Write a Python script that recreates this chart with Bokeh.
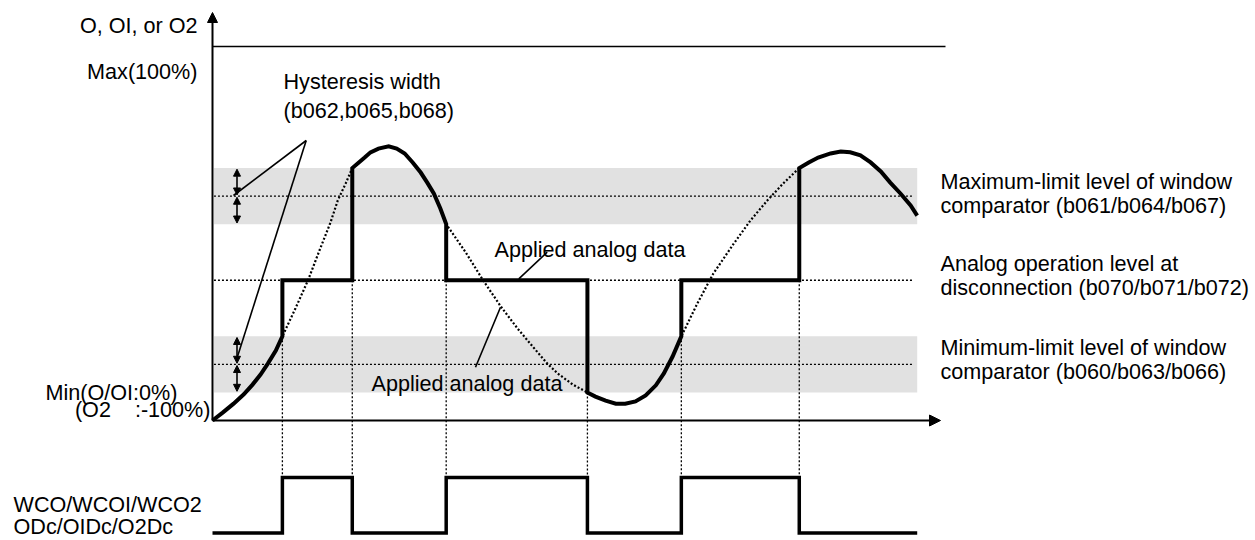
from bokeh.plotting import figure
from bokeh.models import Range1d, Arrow, NormalHead
from bokeh.embed import file_html
from bokeh.resources import INLINE
from bokeh.core.properties import value

# ---------------- data ----------------
full_scale = 100.0          # Max(100%)
level_max = 60.0            # maximum-limit level of window comparator
level_min = 15.0            # minimum-limit level of window comparator
level_disc = 37.5           # analog operation level at disconnection
hyst = 7.5                  # hysteresis width

# input analog signal (time, %)
signal_t = [0.0, 1.4, 2.9, 4.3, 5.5, 6.6, 7.6, 8.7, 9.6,
            11.4, 13.1, 14.8, 16.2, 17.2, 18.3, 19.2,
            20.1, 20.9, 21.7, 22.8, 24.2, 25.3, 26.4, 27.5, 28.6, 29.5, 30.4, 31.3, 32.1,
            34.8, 37.2, 39.6, 41.9, 44.1, 46.0, 47.4, 49.5, 51.5,
            52.6, 54.0, 55.4, 56.7, 58.1, 59.5, 60.9, 62.0, 63.2, 64.4,
            66.6, 68.8, 71.6, 73.9, 76.2, 78.4, 80.6,
            81.9, 83.2, 84.9, 86.3, 87.6, 89.0, 90.4, 91.8, 93.1, 94.5, 95.9, 96.8]
signal_y = [0.0, 2.1, 4.5, 7.0, 9.6, 12.3, 15.2, 18.7, 22.5,
            30.0, 37.4, 46.0, 52.9, 58.8, 63.4, 67.5,
            69.0, 70.3, 71.7, 72.7, 73.3, 72.7, 71.4, 69.0, 66.3, 63.6, 60.7, 56.7, 52.5,
            44.9, 37.4, 30.5, 24.6, 19.5, 15.2, 12.6, 9.6, 7.5,
            6.4, 5.3, 4.5, 4.5, 5.1, 6.7, 9.4, 12.6, 17.1, 22.5,
            31.3, 39.3, 47.3, 53.5, 58.8, 63.4, 67.5,
            69.0, 70.3, 71.4, 71.9, 71.7, 70.9, 69.0, 66.6, 63.6, 60.7, 57.5, 54.8]

# times where the window comparator switches
crossing_t = [9.6, 19.2, 32.1, 51.5, 64.4, 80.6]
# WCO state in each interval (1 = inside window -> disconnection level used)
wco_state = [0, 1, 0, 1, 0, 1, 0]

# ---------------- layout helpers ----------------
PX0, PY0, SX, SY = 212.0, 420.0, 7.28, 3.74
def X(px):
    return (px - PX0) / SX
def Y(py):
    return (PY0 - py) / SY

W, H = 1255, 540
FONT = value("Liberation Sans")
FS = value("21.6px")
pulse_low, pulse_high = Y(532.5), Y(477)

p = figure(width=W, height=H, x_range=Range1d(X(0), X(W)),
           y_range=Range1d(Y(H), Y(0)), output_backend="svg",
           toolbar_location=None, min_border=0, x_axis_type=None,
           y_axis_type=None)
p.grid.visible = False
p.outline_line_color = None
p.background_fill_color = "white"

t_end = signal_t[-1]

# hysteresis bands
levels = [level_max, level_min]
p.quad(left=[0.2] * 2, right=[t_end] * 2,
       bottom=[l - hyst for l in levels], top=[l + hyst for l in levels],
       fill_color="#e1e1e1", line_color=None)

# dotted level lines
guide_levels = [level_max, level_disc, level_min]
p.segment(x0=[0.2] * 3, y0=guide_levels, x1=[X(913)] * 3, y1=guide_levels,
          line_color="black", line_width=1.3, line_dash="2 2")

# output (thick) build
bounds = [signal_t[0]] + crossing_t + [t_end]
out_t, out_y, pul_t, pul_y = [], [], [], []
for i in range(len(bounds) - 1):
    a, b = bounds[i], bounds[i + 1]
    s = wco_state[i]
    if s:
        out_t += [a, b]
        out_y += [level_disc, level_disc]
    else:
        for t, y in zip(signal_t, signal_y):
            if a - 1e-9 <= t <= b + 1e-9:
                out_t.append(t)
                out_y.append(y)
    py = pulse_low + s * (pulse_high - pulse_low)
    pul_t += [a, b]
    pul_y += [py, py]

# vertical dotted lines at the switching times
vx, vtop = [], []
for c in crossing_t:
    sy = signal_y[signal_t.index(c)]
    vx.append(c)
    vtop.append(min(sy, level_disc))
p.segment(x0=vx, y0=vtop, x1=vx, y1=[pulse_high] * len(vx),
          line_color="black", line_width=1.3, line_dash="2 2")

# input signal dotted
p.line(signal_t, signal_y, line_color="black", line_width=2.2, line_dash="2 2")

# thick output
p.line(out_t, out_y, line_color="black", line_width=4, line_join="miter")

# top (Max) line
p.line([0, X(945)], [full_scale, full_scale], line_color="black", line_width=1.6)

# axes with arrows
p.add_layout(Arrow(end=NormalHead(size=10, fill_color="black", line_color="black"),
                   x_start=0, y_start=0, x_end=0, y_end=Y(12),
                   line_color="black", line_width=2))
p.add_layout(Arrow(end=NormalHead(size=11, fill_color="black", line_color="black"),
                   x_start=0, y_start=0, x_end=X(940), y_end=0,
                   line_color="black", line_width=2))

# pulse (WCO)
p.line(pul_t, pul_y, line_color="black", line_width=3.5, line_join="miter")

# hysteresis double arrows
ax = X(236.5)
for lv in levels:
    for (y0, y1) in [(lv + hyst, lv), (lv, lv - hyst)]:
        p.add_layout(Arrow(start=NormalHead(size=7, fill_color="black", line_color="black"),
                           end=NormalHead(size=7, fill_color="black", line_color="black"),
                           x_start=ax, y_start=y0 - 0.3, x_end=ax, y_end=y1 + 0.3,
                           line_color="black", line_width=1.6))

# pointer lines
p.segment(x0=[X(305.7), X(305.7), X(546.7), X(500)],
          y0=[Y(140), Y(140), Y(251.7), Y(306.7)],
          x1=[X(233), X(236.7), X(518.3), X(475)],
          y1=[Y(195), Y(357), Y(278.3), Y(366.7)],
          line_color="black", line_width=1.6)

# texts
right_txt = ["O, OI, or O2", "Max(100%)", "Min(O/OI:0%)",
             "(O2\u00a0\u00a0\u00a0\u00a0:-100%)"]
p.text(x=[X(197), X(197), X(177), X(210)],
       y=[Y(25), Y(71), Y(392), Y(409)], text=right_txt,
       text_font=FONT, text_font_size=FS, text_align="right",
       text_baseline="alphabetic", text_color="black")

left_txt = ["Hysteresis width", "(b062,b065,b068)",
            "Applied analog data", "Applied analog data",
            "Maximum-limit level of window", "comparator (b061/b064/b067)",
            "Analog operation level at", "disconnection (b070/b071/b072)",
            "Minimum-limit level of window", "comparator (b060/b063/b066)",
            "WCO/WCOI/WCO2", "ODc/OIDc/O2Dc"]
left_x = [X(283), X(283), X(494), X(371),
          X(940), X(940), X(940), X(940), X(940), X(940),
          X(13), X(13)]
left_y = [Y(81), Y(110), Y(249), Y(383),
          Y(181), Y(205), Y(263), Y(287), Y(347), Y(371),
          Y(504), Y(526)]
p.text(x=left_x, y=left_y, text=left_txt, text_font=FONT, text_font_size=FS,
       text_align="left", text_baseline="alphabetic", text_color="black")

open("out.html", "w").write(file_html(p, INLINE))
